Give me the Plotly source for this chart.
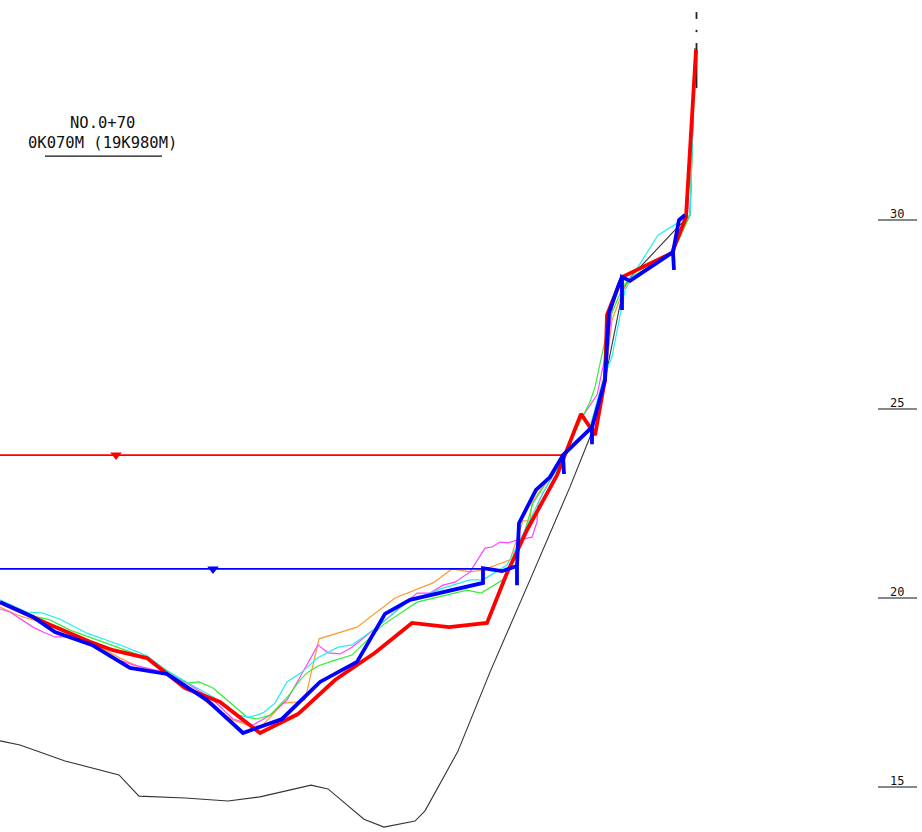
import plotly.graph_objects as go

ground_x = [0, 2.0, 6.5, 11.9, 13.9, 18.5, 22.8, 26.0, 31.1, 32.8, 36.4, 38.4, 41.5, 42.5, 45.8, 49.0, 53.0, 57.0, 59.0, 60.5, 62.3, 63.0, 67.7, 69.0, 69.5]
ground_e = [16.22, 16.11, 15.69, 15.32, 14.76, 14.71, 14.63, 14.74, 15.05, 14.95, 14.15, 13.94, 14.10, 14.37, 15.95, 18.04, 20.48, 22.94, 24.26, 25.77, 28.15, 28.47, 29.79, 30.13, 34.55]

cyan_x = [0, 2.7, 4.3, 6.0, 8.7, 12.3, 14.7, 17.0, 21.3, 23.7, 25.0, 26.3, 27.5, 28.7, 30.2, 31.7, 33.8, 35.2, 37.7, 40.7, 44.3, 47.0, 48.3, 50.7, 52.0, 54.3, 56.5, 59.0, 60.3, 61.2, 62.5, 63.8, 65.8, 67.8, 69.0, 69.5]
cyan_e = [19.95, 19.63, 19.60, 19.44, 19.07, 18.73, 18.47, 18.02, 17.38, 16.90, 16.85, 16.96, 17.22, 17.78, 18.04, 18.41, 18.70, 18.76, 19.23, 19.89, 20.26, 20.48, 20.48, 20.87, 21.53, 22.78, 23.78, 24.52, 25.77, 26.38, 28.15, 28.76, 29.60, 29.92, 30.13, 34.23]

green_x = [0, 3.3, 5.0, 7.0, 11.7, 14.7, 18.7, 19.9, 21.3, 22.7, 24.7, 25.7, 27.0, 28.8, 30.0, 30.7, 31.8, 33.2, 35.2, 38.3, 41.7, 46.7, 48.1, 50.3, 52.0, 53.3, 56.3, 59.0, 59.5, 61.0, 62.3, 63.0, 67.3, 69.0, 69.5]
green_e = [19.87, 19.52, 19.42, 19.15, 18.70, 18.41, 17.75, 17.78, 17.62, 17.30, 16.85, 16.80, 16.90, 17.40, 17.83, 18.02, 18.20, 18.33, 18.49, 19.29, 19.89, 20.21, 20.13, 20.48, 21.35, 22.51, 23.73, 25.19, 25.58, 27.43, 28.23, 28.47, 29.15, 30.13, 34.23]

magenta_x = [0, 1.0, 3.3, 4.3, 5.5, 6.7, 9.0, 11.0, 13.3, 16.7, 19.0, 21.3, 23.3, 25.3, 27.0, 28.7, 30.0, 31.8, 32.8, 34.0, 35.2, 37.7, 41.7, 43.0, 44.3, 45.5, 47.0, 48.5, 49.2, 50.0, 50.8, 51.7, 53.2, 53.7, 53.8, 54.3, 56.3, 57.8, 59.7, 60.8, 61.3, 62.2, 63.7, 67.3, 68.7, 69.5]
magenta_e = [19.71, 19.63, 19.23, 19.10, 18.97, 18.97, 18.81, 18.44, 18.23, 18.02, 17.70, 17.30, 16.80, 16.64, 16.90, 17.30, 17.91, 18.76, 18.55, 18.52, 18.70, 19.23, 20.13, 20.13, 20.34, 20.42, 20.69, 21.32, 21.35, 21.48, 21.46, 21.53, 21.61, 22.01, 22.51, 22.78, 23.73, 24.63, 25.37, 26.75, 27.80, 28.49, 28.70, 29.15, 30.00, 34.23]

orange_x = [0, 1.7, 3.3, 6.0, 8.7, 12.0, 14.0, 16.7, 19.0, 21.0, 23.3, 25.3, 26.3, 28.3, 29.8, 30.5, 31.9, 35.7, 39.5, 43.3, 45.2, 47.0, 48.3, 51.0, 52.3, 53.0, 53.2, 56.3, 59.0, 60.5, 61.2, 62.5, 67.3, 69.0, 69.5]
orange_e = [19.76, 19.55, 19.42, 19.21, 18.89, 18.41, 18.17, 17.96, 17.62, 17.17, 16.77, 16.59, 16.64, 17.22, 17.25, 17.30, 18.92, 19.23, 20.00, 20.40, 20.77, 20.69, 20.74, 21.01, 22.04, 22.04, 22.51, 23.78, 24.52, 25.77, 27.35, 28.28, 29.15, 30.13, 34.23]

red_x = [0, 5.0, 9.0, 11.3, 14.7, 18.5, 22.0, 26.0, 29.8, 33.5, 37.5, 41.2, 44.9, 48.7, 50.7, 52.7, 55.7, 58.1, 59.2, 59.5, 60.5, 60.7, 62.2, 67.2, 68.6, 69.6]
red_e = [19.89, 19.29, 18.84, 18.62, 18.41, 17.62, 17.25, 16.43, 16.93, 17.83, 18.55, 19.34, 19.23, 19.34, 20.66, 21.80, 23.25, 24.87, 24.44, 24.31, 25.77, 27.49, 28.49, 29.13, 30.08, 34.50]

blue_x = [0, 3.3, 5.5, 9.2, 13.0, 16.7, 20.7, 24.3, 28.2, 32.0, 35.7, 38.5, 41.0, 48.3, 48.3, 50.2, 51.7, 51.7, 51.7, 51.9, 53.6, 55.0, 56.3, 56.4, 56.3, 59.2, 59.2, 59.2, 60.5, 60.9, 61.8, 62.2, 62.2, 62.2, 63.0, 67.3, 67.4, 67.3, 67.9, 68.5]
blue_e = [19.89, 19.50, 19.10, 18.76, 18.15, 17.99, 17.30, 16.43, 16.80, 17.78, 18.31, 19.58, 19.95, 20.40, 20.79, 20.71, 20.85, 20.34, 20.85, 21.98, 22.86, 23.20, 23.78, 23.28, 23.78, 24.52, 24.07, 24.52, 25.77, 27.54, 28.23, 28.49, 27.62, 28.49, 28.39, 29.15, 28.68, 29.15, 30.00, 30.13]

centre_x = [69.65, 69.65, None, 69.65, 69.65, None, 69.65, 69.65]
centre_e = [35.50, 35.32, None, 35.03, 34.97, None, 34.68, 33.49]

red_level_x = [0, 56.3]
red_level_e = [23.78, 23.78]
red_mark_x = [11.6]
blue_level_x = [0, 48.3]
blue_level_e = [20.77, 20.77]
blue_mark_x = [21.3]

scale_values = [15, 20, 25, 30]
scale_left = 87.8
scale_right = 91.7
section_lines = ["NO.0+70", "0K070M (19K980M)"]
FONT = "DejaVu Sans Mono"

fig = go.Figure()


def line(x, y, color, width, dash="solid"):
    fig.add_trace(go.Scatter(x=x, y=y, mode="lines",
                             line=dict(color=color, width=width, dash=dash),
                             hoverinfo="skip", showlegend=False))


line(ground_x, ground_e, "#333333", 1.1)
line(orange_x, orange_e, "#ff9933", 1.2)
line(magenta_x, magenta_e, "#ff44ff", 1.2)
line(green_x, green_e, "#33ee33", 1.2)
line(cyan_x, cyan_e, "#22eeee", 1.2)
line(centre_x, centre_e, "#222222", 1.8)
line(red_level_x, red_level_e, "#ff0000", 1.6)
line(blue_level_x, blue_level_e, "#0000ff", 1.6)
line(red_x, red_e, "#ff0000", 3.8)
line(blue_x, blue_e, "#0000ff", 3.8)

for mx, me, color in [(red_mark_x, red_level_e[0], "#ff0000"), (blue_mark_x, blue_level_e[0], "#0000ff")]:
    fig.add_trace(go.Scatter(x=mx, y=[me], mode="markers",
                             marker=dict(symbol="triangle-down", size=10, color=color),
                             hoverinfo="skip", showlegend=False))

for v in scale_values:
    line([scale_left, scale_right], [v, v], "#111111", 1.2)
    fig.add_annotation(x=(scale_left + scale_right) / 2, y=v, text=str(v), showarrow=False,
                       yanchor="bottom", yshift=-3, xshift=-1,
                       font=dict(family=FONT, size=12, color="#111111"))

fig.add_annotation(x=10.2, y=31.69, yanchor="bottom", yshift=2, text="<br>".join(section_lines),
                   showarrow=False, align="center",
                   font=dict(family=FONT, size=15.5, color="#111111"))
line([4.5, 16.2], [31.69, 31.69], "#111111", 1.3)

fig.update_layout(
    width=922, height=832, margin=dict(l=0, r=0, t=0, b=0),
    paper_bgcolor="white", plot_bgcolor="white", showlegend=False,
    xaxis=dict(range=[0, 92.2], visible=False, fixedrange=True),
    yaxis=dict(range=[13.81, 35.82], visible=False, fixedrange=True),
)
fig.write_html("out.html", config={"displayModeBar": False},
               post_script="document.body.style.margin='0';document.body.style.overflow='hidden';")
